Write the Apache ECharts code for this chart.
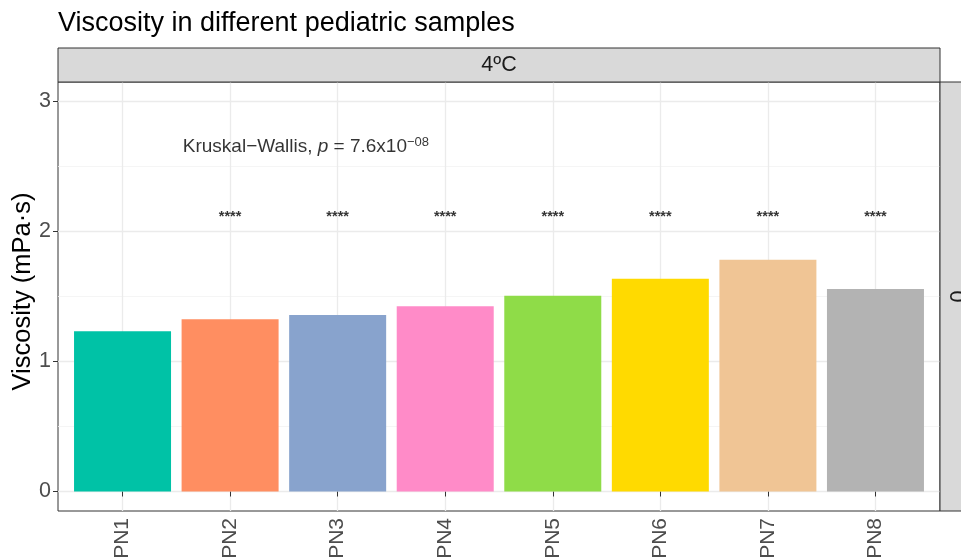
<!DOCTYPE html>
<html>
<head>
<meta charset="utf-8">
<script src="https://cdn.jsdelivr.net/npm/echarts@6/dist/echarts.min.js"></script>
<style>html,body{margin:0;padding:0;background:#fff;}#c{width:961px;height:558px;}</style>
</head>
<body>
<div id="c"></div>
<script>
const categories = ['PN1','PN2','PN3','PN4','PN5','PN6','PN7','PN8'];
const viscosity = [1.232, 1.325, 1.358, 1.425, 1.506, 1.637, 1.783, 1.558];
const barColors = ['#00C2A6','#FF8E61','#88A3CD','#FF8BC8','#8FDC48','#FFDA00','#F0C595','#B3B3B3'];
const sigLabels = ['', '****','****','****','****','****','****','****'];
const sigY = 2.11;
const yTicks = [0, 1, 2, 3];
const yMinorTicks = [0.5, 1.5, 2.5];
const xTicks = [1, 2, 3, 4, 5, 6, 7, 8];
const annotation = {x: 1.56, y: 2.65};
const facetTop = '4ºC';
const facetRight = '0';

const FONT = 'Liberation Sans, Arial, Helvetica, sans-serif';
const L = 58, R = 940, T = 82, B = 511;

const chart = echarts.init(document.getElementById('c'), null, {renderer: 'canvas'});

const barData = viscosity.map((v, i) => ({value: [i + 1, v], itemStyle: {color: barColors[i]}}));
const sigData = sigLabels.map((s, i) => ({value: [i + 1, sigY], label: {formatter: s}})).filter(d => d.label.formatter);

chart.setOption({
  animation: false,
  backgroundColor: '#fff',
  textStyle: {fontFamily: FONT},
  title: {
    text: 'Viscosity in different pediatric samples',
    left: 53, top: 5,
    textStyle: {fontSize: 27, fontWeight: 'normal', color: '#000', fontFamily: FONT}
  },
  grid: [{
    left: L, right: 961 - R, top: T, bottom: 558 - B,
    show: true, borderColor: '#333333', borderWidth: 1, backgroundColor: '#fff',
    containLabel: false, outerBoundsMode: 'none'
  }],
  xAxis: [{
    type: 'value', min: 0.4, max: 8.6,
    axisLine: {show: false},
    axisTick: {show: true, customValues: xTicks, length: 5, lineStyle: {color: '#333333', width: 1}},
    axisLabel: {show: true, customValues: xTicks, rotate: 90, margin: 7, fontSize: 21, color: '#4D4D4D', fontFamily: FONT,
      formatter: v => categories[Math.round(v) - 1] || ''},
    splitLine: {show: true, lineStyle: {color: '#EBEBEB', width: 1.3}}
  }],
  yAxis: [{
    type: 'value', min: -0.15, max: 3.15,
    name: 'Viscosity (mPa·s)', nameLocation: 'middle', nameGap: 22, nameMoveOverlap: false,
    nameTextStyle: {fontSize: 25.5, color: '#000', fontFamily: FONT, padding: [0, 0, 0, 10]},
    axisLine: {show: false},
    axisTick: {show: true, customValues: yTicks, length: 5, lineStyle: {color: '#333333', width: 1}},
    axisLabel: {show: true, customValues: yTicks, margin: 7, fontSize: 21.5, color: '#4D4D4D', fontFamily: FONT},
    splitLine: {show: true, lineStyle: {color: '#EBEBEB', width: 1.3}}
  }, {
    type: 'value', min: -0.15, max: 3.15, position: 'left',
    axisLine: {show: false},
    axisTick: {show: false, customValues: yMinorTicks},
    axisLabel: {show: false, customValues: yMinorTicks},
    splitLine: {show: true, lineStyle: {color: '#F3F3F3', width: 0.8}}
  }],
  series: [{
    type: 'bar', xAxisIndex: 0, yAxisIndex: 0,
    barWidth: 97, data: barData, z: 3
  }, {
    type: 'scatter', symbolSize: 0, data: sigData, z: 4,
    label: {show: true, position: [0, 0], align: 'center', verticalAlign: 'middle', fontSize: 14.5, fontWeight: 'bold', color: '#000', fontFamily: FONT}
  }, {
    type: 'scatter', symbolSize: 0, z: 4,
    data: [{value: [annotation.x, annotation.y]}],
    label: {
      show: true, position: [0, 0], align: 'left', verticalAlign: 'middle',
      formatter: 'Kruskal−Wallis, {i|p} = 7.6x10{s|−08}',
      fontSize: 19, color: '#000', fontFamily: FONT, lineHeight: 22,
      rich: {
        i: {fontStyle: 'italic', fontSize: 19, fontFamily: FONT, color: '#000', lineHeight: 22},
        s: {fontSize: 13, fontFamily: FONT, color: '#000', verticalAlign: 'top', lineHeight: 12}
      }
    }
  }],
  graphic: [{
    type: 'rect', shape: {x: L, y: 48, width: R - L, height: T - 48},
    style: {fill: '#D9D9D9', stroke: '#333333', lineWidth: 1}, z: 10
  }, {
    type: 'text', x: (L + R) / 2, y: (48 + T) / 2,
    style: {text: facetTop, fontSize: 21.5, fill: '#1A1A1A', fontFamily: FONT, align: 'center', verticalAlign: 'middle'}, z: 11
  }, {
    type: 'rect', shape: {x: R, y: T, width: 36, height: B - T},
    style: {fill: '#D9D9D9', stroke: '#333333', lineWidth: 1}, z: 10
  }, {
    type: 'text', x: 956, y: (T + B) / 2, rotation: -Math.PI / 2,
    style: {text: facetRight, fontSize: 21.5, fill: '#1A1A1A', fontFamily: FONT, align: 'center', verticalAlign: 'middle'}, z: 11
  }]
});
</script>
</body>
</html>
